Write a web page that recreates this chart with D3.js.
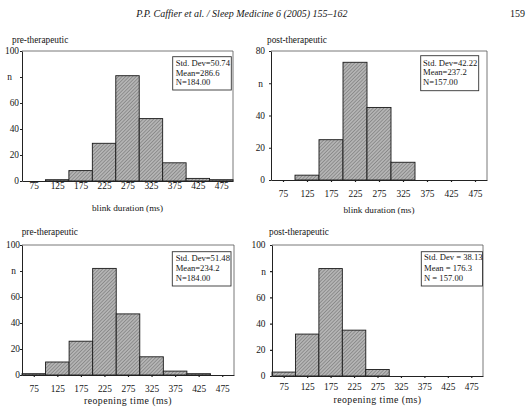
<!DOCTYPE html>
<html>
<head>
<meta charset="utf-8">
<script src="https://cdn.jsdelivr.net/npm/d3@7"></script>
<style>
  body { margin: 0; background: #fff; }
  text { font-family: "Liberation Serif", "Times New Roman", serif; fill: #151515; }
</style>
</head>
<body>
<svg width="530" height="409"></svg>
<script>
// bin centres (ms) and counts
var bins = [75, 125, 175, 225, 275, 325, 375, 425, 475];
var preBlink   = [0, 1, 8, 29, 81, 48, 14, 2, 1];
var postBlink  = [0, 3, 25, 73, 45, 11, 0, 0, 0];
var preReopen  = [1, 10, 26, 82, 47, 14, 3, 1, 0];
var postReopen = [3, 32, 82, 35, 5, 0, 0, 0, 0];

var yTicks100 = [0, 20, 40, 60, 80, 100];
var yTicks80  = [0, 20, 40, 60, 80];

var statsPreBlink   = ["Std. Dev=50.74", "Mean=286.6", "N=184.00"];
var statsPostBlink  = ["Std. Dev=42.22", "Mean=237.2", "N=157.00"];
var statsPreReopen  = ["Std. Dev=51.48", "Mean=234.2", "N=184.00"];
var statsPostReopen = ["Std. Dev = 38.13", "Mean = 176.3", "N = 157.00"];

var svg = d3.select("svg");

// hatch fill for the bars
var pat = svg.append("defs").append("pattern")
    .attr("id", "hatch")
    .attr("patternUnits", "userSpaceOnUse")
    .attr("width", 2.5).attr("height", 2.5)
    .attr("patternTransform", "rotate(45)");
pat.append("rect").attr("width", 2.5).attr("height", 2.5).attr("fill", "#b4b4b4");
pat.append("line").attr("x1", 0).attr("y1", 0).attr("x2", 0).attr("y2", 2.5)
    .attr("stroke", "#6a6a6a").attr("stroke-width", 1);

// running header
svg.append("text").attr("x", 242).attr("y", 16.5)
    .attr("text-anchor", "middle").style("font-style", "italic").style("font-size", "10px")
    .text("P.P. Caffier et al. / Sleep Medicine 6 (2005) 155\u2013162");
svg.append("text").attr("x", 510).attr("y", 16.5).style("font-size", "10px").text("159");

var panels = [
  { values: preBlink, stats: statsPreBlink, yMax: 100, yTicks: yTicks100, nTick: 80,
    x0: 22, x1: 233, yTop: 51, yBot: 181, lab: 3, nOff: 10,
    sub: "pre-therapeutic", subX: 12, subY: 43,
    xLabY: 188.8, title: "blink duration (ms)", titleY: 210.5, reopen: false,
    box: [172.7, 56.7, 231.3, 90], txtX: 175.7, txtY: [66.3, 76, 85.2] },
  { values: postBlink, stats: statsPostBlink, yMax: 80, yTicks: yTicks80, nTick: 60,
    x0: 271, x1: 487, yTop: 51, yBot: 180, lab: 6, nOff: 8,
    sub: "post-therapeutic", subX: 267, subY: 43,
    xLabY: 196.5, title: "blink duration (ms)", titleY: 213, reopen: false,
    box: [420.7, 55.7, 478.7, 90.7], txtX: 423, txtY: [65.7, 75.3, 85] },
  { values: preReopen, stats: statsPreReopen, yMax: 100, yTicks: yTicks100, nTick: 80,
    x0: 22, x1: 234, yTop: 245, yBot: 375, lab: 2, nOff: 6,
    sub: "pre-therapeutic", subX: 21.7, subY: 235.3,
    xLabY: 392, title: "reopening time (ms)", titleY: 404, reopen: true,
    box: [172.3, 251.7, 231, 286], txtX: 175.7, txtY: [260.7, 271, 280.5] },
  { values: postReopen, stats: statsPostReopen, yMax: 100, yTicks: yTicks100, nTick: 80,
    x0: 272, x1: 483, yTop: 245, yBot: 376, lab: 6.5, nOff: 6,
    sub: "post-therapeutic", subX: 269, subY: 235.3,
    xLabY: 390, title: "reopening time (ms)", titleY: 402.6, reopen: true,
    box: [421.3, 251.7, 482.5, 286], txtX: 424, txtY: [260.3, 271, 280.5] }
];

panels.forEach(function (p) {
  var x = d3.scaleLinear().domain([50, 500]).range([p.x0, p.x1]);
  var y = d3.scaleLinear().domain([0, p.yMax]).range([p.yBot, p.yTop]);
  var g = svg.append("g");

  // subtitle
  g.append("text").attr("x", p.subX).attr("y", p.subY)
      .style("font-size", "9.3px").text(p.sub);

  // frame top and right
  g.append("path")
      .attr("d", "M" + x(50) + "," + y(p.yMax) + "H" + x(500) + "V" + y(0))
      .attr("fill", "none").attr("stroke", "#555").attr("stroke-width", 0.8);

  // bars
  g.selectAll("rect.bar").data(bins).enter().append("rect")
      .attr("class", "bar")
      .attr("x", function (d) { return x(d - 25); })
      .attr("width", function (d) { return x(d + 25) - x(d - 25); })
      .attr("y", function (d, i) { return y(p.values[i]); })
      .attr("height", function (d, i) { return y(0) - y(p.values[i]); })
      .attr("fill", "url(#hatch)")
      .attr("stroke", function (d, i) { return p.values[i] > 0 ? "#1a1a1a" : "none"; })
      .attr("stroke-width", 0.9);

  // x axis
  var xa = g.append("g").attr("transform", "translate(0," + y(0) + ")")
      .call(d3.axisBottom(x).tickValues(bins).tickSize(2).tickSizeOuter(0));
  xa.select(".domain").attr("stroke", "#222").attr("stroke-width", 1);
  xa.selectAll(".tick line").attr("stroke", "#222").attr("stroke-width", 1.2);
  xa.selectAll(".tick text")
      .attr("y", p.xLabY - y(0)).attr("dy", null).attr("fill", "#151515")
      .style("font-size", "9.4px").style("font-family", "Liberation Serif");

  // y axis
  var ya = g.append("g").attr("transform", "translate(" + x(50) + ",0)")
      .call(d3.axisLeft(y).tickValues(p.yTicks).tickSize(2).tickSizeOuter(0)
        .tickFormat(function (d) { return d === p.nTick ? "n" : d; }));
  ya.select(".domain").attr("stroke", "#222").attr("stroke-width", 1);
  ya.selectAll(".tick line").attr("stroke", "#222").attr("stroke-width", 1.2);
  ya.selectAll(".tick text")
      .attr("x", function (d) { return d === p.nTick ? -p.nOff : -p.lab; })
      .attr("dy", "0.3em").attr("fill", "#151515")
      .style("font-size", "9.4px").style("font-family", "Liberation Serif");

  // axis title
  g.append("text").attr("x", (p.x0 + p.x1) / 2).attr("y", p.titleY)
      .attr("text-anchor", "middle")
      .style("font-size", p.reopen ? "9.8px" : "9.2px")
      .style("letter-spacing", p.reopen ? "0.45px" : "0px")
      .text(p.title);

  // statistics box
  g.append("rect").attr("x", p.box[0]).attr("y", p.box[1])
      .attr("width", p.box[2] - p.box[0]).attr("height", p.box[3] - p.box[1])
      .attr("fill", "#fff").attr("stroke", "#333").attr("stroke-width", 0.9);
  g.selectAll("text.stat").data(p.stats).enter().append("text")
      .attr("class", "stat")
      .attr("x", p.txtX)
      .attr("y", function (d, i) { return p.txtY[i]; })
      .style("font-size", "8.6px")
      .text(function (d) { return d; });
});
</script>
</body>
</html>
